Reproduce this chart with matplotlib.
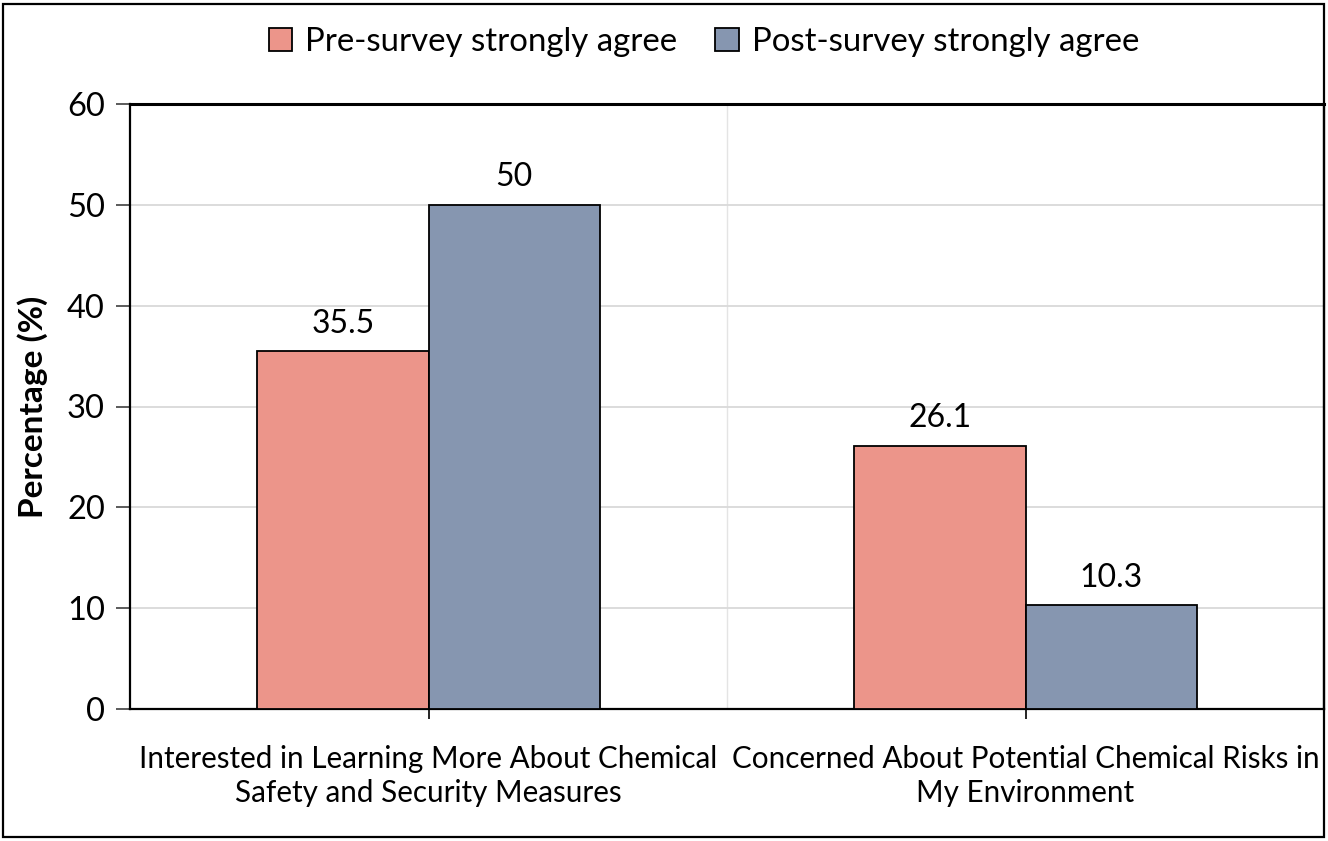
import matplotlib
matplotlib.use("Agg")
import matplotlib.pyplot as plt
import numpy as np
from matplotlib.patches import Rectangle

categories = ["Interested in Learning More About Chemical\nSafety and Security Measures",
              "Concerned About Potential Chemical Risks in\nMy Environment"]
series_names = ["Pre-survey strongly agree", "Post-survey strongly agree"]
pre_values = [35.5, 26.1]
post_values = [50, 10.3]
y_ticks = [0, 10, 20, 30, 40, 50, 60]

plt.rcParams['font.family'] = ['Lato', 'DejaVu Sans']

W, H = 1328, 841
fig = plt.figure(figsize=(W / 100, H / 100), dpi=100)
ax = fig.add_axes([130 / W, 1 - 709 / H, (1324 - 130) / W, (709 - 104) / H])

x = np.arange(len(categories))
bw = 0.2865
c_pre = "#EC958A"
c_post = "#8696B0"
b1 = ax.bar(x - bw / 2, pre_values, bw, color=c_pre, edgecolor="black", linewidth=1.3,
            label=series_names[0], zorder=3)
b2 = ax.bar(x + bw / 2, post_values, bw, color=c_post, edgecolor="black", linewidth=1.3,
            label=series_names[1], zorder=3)
for bars, vals in ((b1, pre_values), (b2, post_values)):
    ax.bar_label(bars, labels=[f"{v:g}" for v in vals], padding=9, fontsize=23)

ax.set_xlim(-0.5, 1.5)
ax.set_ylim(0, 60)
ax.set_yticks(y_ticks)
ax.set_xticks(x)
ax.set_xticklabels(categories, fontsize=21.3, linespacing=1.27)
ax.tick_params(axis='x', length=7, width=1.2, pad=19)
ax.tick_params(axis='y', length=10, width=1.2, labelsize=23.5, pad=8, color="#404040")
ax.set_xticks([0.5], minor=True)
ax.tick_params(axis='x', which='minor', length=0)
ax.grid(axis='y', color="#D9D9D9", linewidth=1.3, zorder=0)
ax.grid(axis='x', which='minor', color="#E4E4E4", linewidth=1.0, zorder=0)
ax.set_axisbelow(True)
for s in ax.spines.values():
    s.set_color("black")
    s.set_linewidth(1.6)
ax.spines['top'].set_linewidth(2.2)
ax.set_ylabel("Percentage (%)", fontsize=24, fontweight='bold', labelpad=14)

leg = fig.legend(handles=[b1, b2], loc='center', bbox_to_anchor=(704 / W, 1 - 42 / H),
                 ncol=2, frameon=False, fontsize=23.8, handlelength=0.7, handleheight=0.7,
                 handletextpad=0.4, columnspacing=1.15)

fig.patches.append(Rectangle((3 / W, 4 / H), (1324 - 3) / W, (837 - 4) / H,
                             transform=fig.transFigure, fill=False, edgecolor="black",
                             linewidth=1.6))

fig.savefig("out.png", dpi=100)
